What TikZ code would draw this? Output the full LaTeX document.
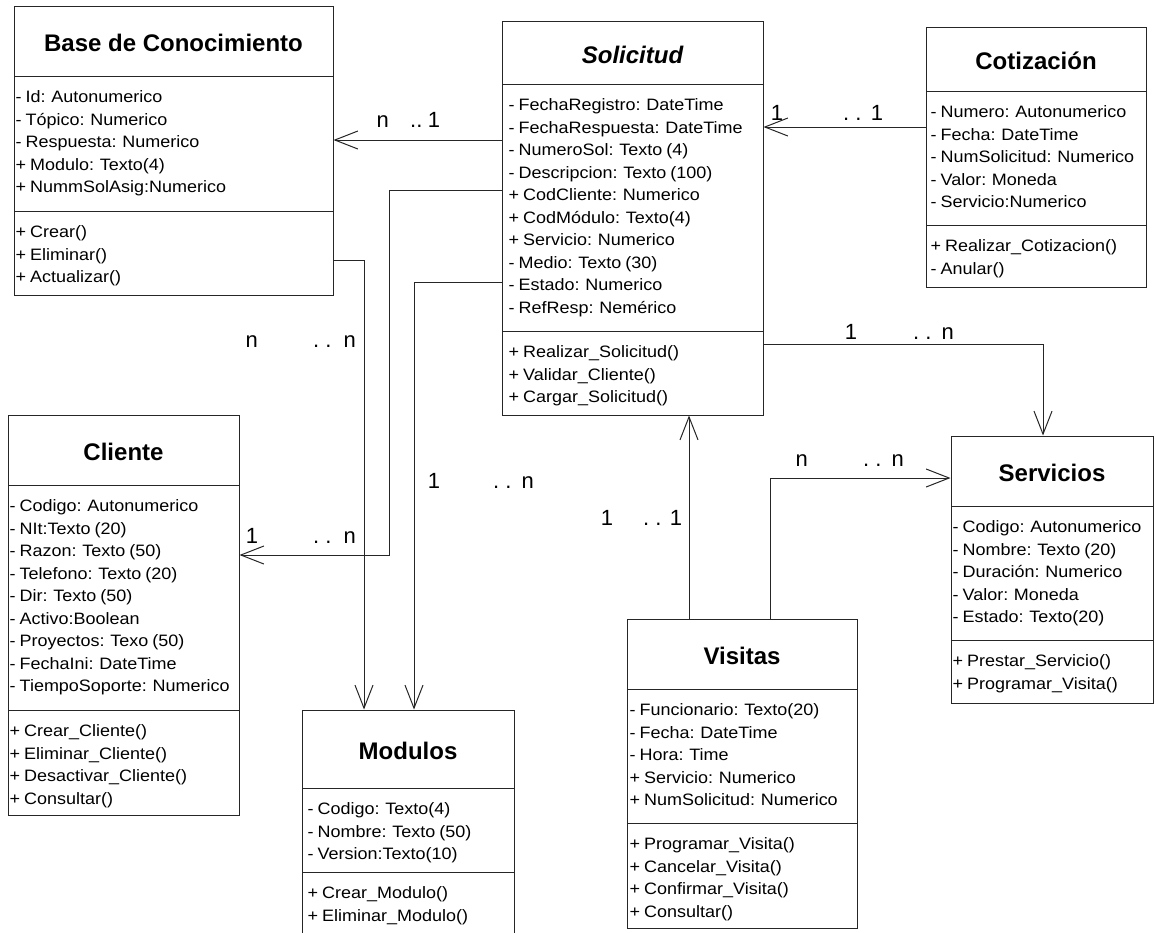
\documentclass[tikz,border=0pt]{standalone}
\usepackage{fontspec}
\setmainfont{Liberation Sans}
\newfontfamily\memberfont[FakeStretch=1.09,WordSpace=0.8]{Liberation Sans}
\usetikzlibrary{arrows.meta,fit}

\tikzset{
  classframe/.style={draw=black!85, line width=1pt, inner sep=0pt, fill=white},
  classline/.style={draw=black!85, line width=1pt},
  classtitle/.style={anchor=base, inner sep=0pt, font=\fontsize{24}{28}\selectfont\bfseries},
  member/.style={anchor=base west, inner sep=0pt, font=\fontsize{16.5}{20}\memberfont},
  mult/.style={anchor=base west, inner sep=0pt, font=\fontsize{22}{26}\selectfont},
  assoc/.style={draw=black!85, line width=1pt, -{Straight Barb[length=23pt,width=18pt]}}
}

% frame, compartment rules and title of one class
% #1 name, #2 left, #3 top, #4 right, #5 first rule, #6 second rule, #7 bottom, #8 title
\newcommand\classbox[8]{%
  \node[classframe, fit={(#2,#3) (#4,#7)}] (#1) {};
  \draw[classline] (#2,#5) -- (#4,#5);
  \draw[classline] (#2,#6) -- (#4,#6);
  \node[classtitle] (#1-title) at ({(#2+#4)/2},{(#3+#5)/2+10.5}) {#8};
}
% one compartment of members: #1 name prefix, #2 x, #3 rule below which it starts, #4 entries
\newcommand\members[4]{%
  \foreach \entry [count=\i from 0] in {#4} {
    \node[member] (#1\i) at (#2,{#3+26.5+\i*22.5}) {\entry};
  }
}
% multiplicity label in three pieces: #1 name, #2 y, #3 x left, #4 left text, #5 x dots, #6 dots, #7 x right, #8 right text
\newcommand\multlabel[8]{%
  \node[mult] (#1-l) at (#3,#2) {#4};
  \node[mult] (#1-d) at (#5,#2) {#6};
  \node[mult] (#1-r) at (#7,#2) {#8};
}

\begin{document}
\begin{tikzpicture}[x=1pt,y=-1pt]
\path[use as bounding box, fill=white] (0,0) rectangle (1155,932);
\clip (0,0) rectangle (1155,932);

% ---------- classes ----------
\classbox{base}{14}{6}{333}{76}{211}{295}{Base de Conocimiento}
\members{base-a}{15.5}{76}{- Id: Autonumerico, - Tópico: Numerico, - Respuesta: Numerico, + Modulo: Texto(4), + NummSolAsig:Numerico}
\members{base-m}{15.5}{211}{+ Crear(), + Eliminar(), + Actualizar()}

\classbox{sol}{502}{21}{763}{84}{331}{415}{\itshape Solicitud}
\members{sol-a}{508.5}{84}{- FechaRegistro: DateTime, - FechaRespuesta: DateTime, - NumeroSol: Texto (4), - Descripcion: Texto (100), + CodCliente: Numerico, + CodMódulo: Texto(4), + Servicio: Numerico, - Medio: Texto (30), - Estado: Numerico, - RefResp: Nemérico}
\members{sol-m}{508.5}{331}{+ Realizar\_Solicitud(), + Validar\_Cliente(), + Cargar\_Solicitud()}

\classbox{cot}{926}{27}{1146}{91}{225}{287}{Cotización}
\members{cot-a}{930.5}{91}{- Numero: Autonumerico, - Fecha: DateTime, - NumSolicitud: Numerico, - Valor: Moneda, - Servicio:Numerico}
\members{cot-m}{930.5}{225}{+ Realizar\_Cotizacion(), - Anular()}

\classbox{cli}{8}{415}{239}{485}{710}{815}{Cliente}
\members{cli-a}{9.5}{485}{- Codigo: Autonumerico, - NIt:Texto (20), - Razon: Texto (50), - Telefono: Texto (20), - Dir: Texto (50), - Activo:Boolean, - Proyectos: Texo (50), - FechaIni: DateTime, - TiempoSoporte: Numerico}
\members{cli-m}{9.5}{710}{+ Crear\_Cliente(), + Eliminar\_Cliente(), + Desactivar\_Cliente(), + Consultar()}

\classbox{mod}{302}{710}{514}{788}{872}{950}{Modulos}
\members{mod-a}{307.5}{788}{- Codigo: Texto(4), - Nombre: Texto (50), - Version:Texto(10)}
\members{mod-m}{307.5}{872}{+ Crear\_Modulo(), + Eliminar\_Modulo()}

\classbox{vis}{627}{619}{857}{689}{823}{928}{Visitas}
\members{vis-a}{629.5}{689}{- Funcionario: Texto(20), - Fecha: DateTime, - Hora: Time, + Servicio: Numerico, + NumSolicitud: Numerico}
\members{vis-m}{629.5}{823}{+ Programar\_Visita(), + Cancelar\_Visita(), + Confirmar\_Visita(), + Consultar()}

\classbox{serv}{951}{436}{1153}{506}{640}{703}{Servicios}
\members{serv-a}{952.5}{506}{- Codigo: Autonumerico, - Nombre: Texto (20), - Duración: Numerico, - Valor: Moneda, - Estado: Texto(20)}
\members{serv-m}{952.5}{640}{+ Prestar\_Servicio(), + Programar\_Visita()}

% ---------- associations ----------
\coordinate (r1) at (0,140);
\coordinate (r2) at (0,127);
\coordinate (c3) at (364,260);
\coordinate (c4a) at (389,190);
\coordinate (c4b) at (389,555);
\coordinate (c5) at (414,282);
\coordinate (c6) at (1043,344);
\coordinate (c7) at (689,0);
\coordinate (c8) at (770,478);

\draw[assoc] (sol.west |- r1) -- (base.east |- r1);
\draw[assoc] (cot.west |- r2) -- (sol.east |- r2);
\draw[assoc] (base.east |- c3) -- (c3) -- (c3 |- mod.north);
\draw[assoc] (sol.west |- c4a) -- (c4a) -- (c4b) -- (cli.east |- c4b);
\draw[assoc] (sol.west |- c5) -- (c5) -- (c5 |- mod.north);
\draw[assoc] (sol.east |- c6) -- (c6) -- (c6 |- serv.north);
\draw[assoc] (vis.north -| c7) -- (sol.south -| c7);
\draw[assoc] (vis.north -| c8) -- (c8) -- (serv.west |- c8);

% ---------- multiplicities ----------
\multlabel{m1}{127}{376.5}{n}{410}{..}{427.6}{1}
\multlabel{m2}{120}{770.6}{1}{843}{.\hspace{6pt}.}{870.6}{1}
\multlabel{m3}{347}{245.5}{n}{313}{.\hspace{6pt}.}{343.5}{n}
\multlabel{m4}{543}{245.6}{1}{313}{.\hspace{6pt}.}{343.5}{n}
\multlabel{m5}{488}{427.6}{1}{493}{.\hspace{6pt}.}{521.5}{n}
\multlabel{m6}{339}{844.6}{1}{913}{.\hspace{6pt}.}{941.5}{n}
\multlabel{m7}{525}{600.6}{1}{643}{.\hspace{6pt}.}{669.6}{1}
\multlabel{m8}{466}{795.5}{n}{863}{.\hspace{6pt}.}{891.5}{n}
\end{tikzpicture}
\end{document}
